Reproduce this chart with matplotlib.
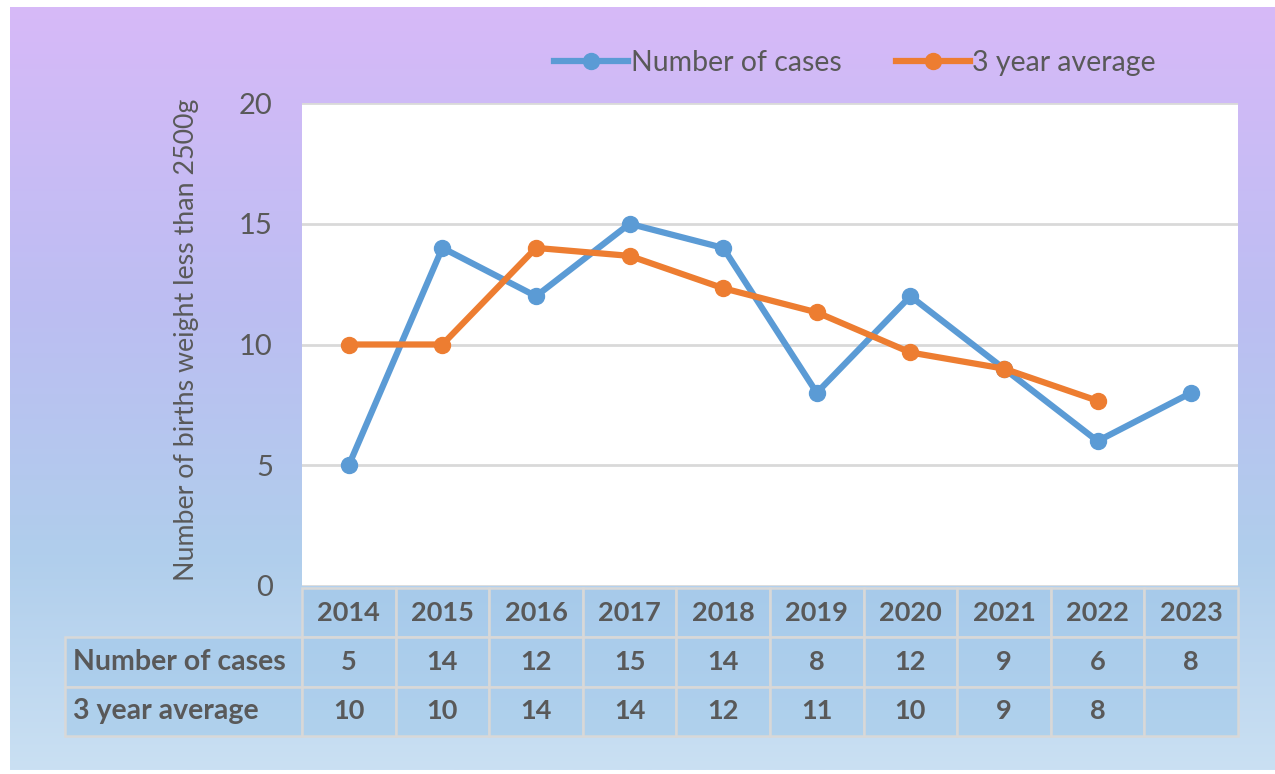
import numpy as np
import matplotlib
matplotlib.use("Agg")
import matplotlib.pyplot as plt
from matplotlib.table import Table
from matplotlib.colors import LinearSegmentedColormap

# ---------------- data ----------------
years = ["2014", "2015", "2016", "2017", "2018", "2019", "2020", "2021", "2022", "2023"]
cases = [5, 14, 12, 15, 14, 8, 12, 9, 6, 8]
avg3 = [10, 10, 14, 13.67, 12.33, 11.33, 9.67, 9, 7.67, None]
avg3_labels = ["10", "10", "14", "14", "12", "11", "10", "9", "8", ""]
series_names = ["Number of cases", "3 year average"]
y_label = "Number of births weight less than 2500g"
y_ticks = [0, 5, 10, 15, 20]

plt.rcParams['font.family'] = ['Lato', 'DejaVu Sans']
W, H = 1275, 774
fig = plt.figure(figsize=(W / 100, H / 100), dpi=100)
fig.patch.set_facecolor("white")

# background gradient panel
bg = fig.add_axes([10 / W, 4 / H, 1265 / W, 763 / H])
cmap = LinearSegmentedColormap.from_list(
    "bg", [(0.0, (215/255, 185/255, 248/255)),
           (0.40, (188/255, 190/255, 242/255)),
           (0.72, (176/255, 206/255, 236/255)),
           (1.0, (202/255, 224/255, 243/255))])
grad = np.linspace(0, 1, 256).reshape(-1, 1)
bg.imshow(grad, aspect="auto", cmap=cmap, extent=[0, 1, 0, 1], origin="upper")
bg.set_axis_off()

# main axes
x0, x1, ytop, ybot = 302, 1238, 103, 586
ax = fig.add_axes([x0 / W, (H - ybot) / H, (x1 - x0) / W, (ybot - ytop) / H])
ax.set_facecolor("white")
x = np.arange(len(years))
ax.set_xlim(-0.5, len(years) - 0.5)
ax.set_ylim(0, 20)
ax.set_yticks(y_ticks)
ax.yaxis.grid(True, color="#d9d9d9", linewidth=2)
ax.set_axisbelow(True)
for s in ax.spines.values():
    s.set_visible(False)
ax.tick_params(axis="y", length=0, labelsize=21, labelcolor="#595959", pad=21)
ax.tick_params(axis="x", length=0, labelbottom=False)

blue, orange = "#5b9bd5", "#ed7d31"
ax.plot(x, cases, color=blue, lw=4.5, marker="o", ms=11.5, label=series_names[0],
        solid_joinstyle="round", zorder=3)
xa = [xi for xi, v in zip(x, avg3) if v is not None]
va = [v for v in avg3 if v is not None]
ax.plot(xa, va, color=orange, lw=4.5, marker="o", ms=11.5, label=series_names[1],
        solid_joinstyle="round", zorder=4)

ax.set_ylabel(y_label, fontsize=19.3, color="#595959", labelpad=14)
ax.yaxis.set_label_coords(-(x0 - 199) / (x1 - x0), (ybot - 340) / (ybot - ytop))

leg = fig.legend(loc="center", bbox_to_anchor=(855 / W, (H - 63) / H), ncol=2,
                 frameon=False, fontsize=20.5, handlelength=2.6, columnspacing=1.9,
                 handletextpad=0.1)
for t in leg.get_texts():
    t.set_color("#595959")

# data table (bbox = data grid incl. header row; label column sits to the left)
ty0, ty1 = 588, 736
tx0 = 65
lab_w = (x0 - tx0) / (x1 - x0)
col_w = 1.0 / len(years)
tbl = Table(ax, bbox=[0, -(ty1 - ybot) / (ybot - ytop), 1, (ty1 - ty0) / (ybot - ytop)])
cell_fc = (0.60, 0.77, 0.91, 0.48)
edge = "#d8d8d8"
rows = [cases, avg3_labels]
for j, yr in enumerate(years):
    tbl.add_cell(0, j, width=col_w, height=1, text=yr, loc="center",
                 facecolor=cell_fc, edgecolor=edge)
for i, (name, vals) in enumerate(zip(series_names, rows), start=1):
    c = tbl.add_cell(i, -1, width=lab_w, height=1, text=name, loc="left",
                     facecolor=cell_fc, edgecolor=edge)
    c.PAD = 0.035
    for j, v in enumerate(vals):
        tbl.add_cell(i, j, width=col_w, height=1, text=str(v), loc="center",
                     facecolor=cell_fc, edgecolor=edge)
tbl.auto_set_font_size(False)
for (r, cidx), cell in tbl.get_celld().items():
    cell.set_linewidth(1.8)
    t = cell.get_text()
    t.set_fontsize(20.5 if cidx == -1 else 19.5)
    t.set_fontweight("bold")
    t.set_color("#595959")
ax.add_table(tbl)

fig.savefig("out.png", dpi=100, facecolor=fig.get_facecolor())
